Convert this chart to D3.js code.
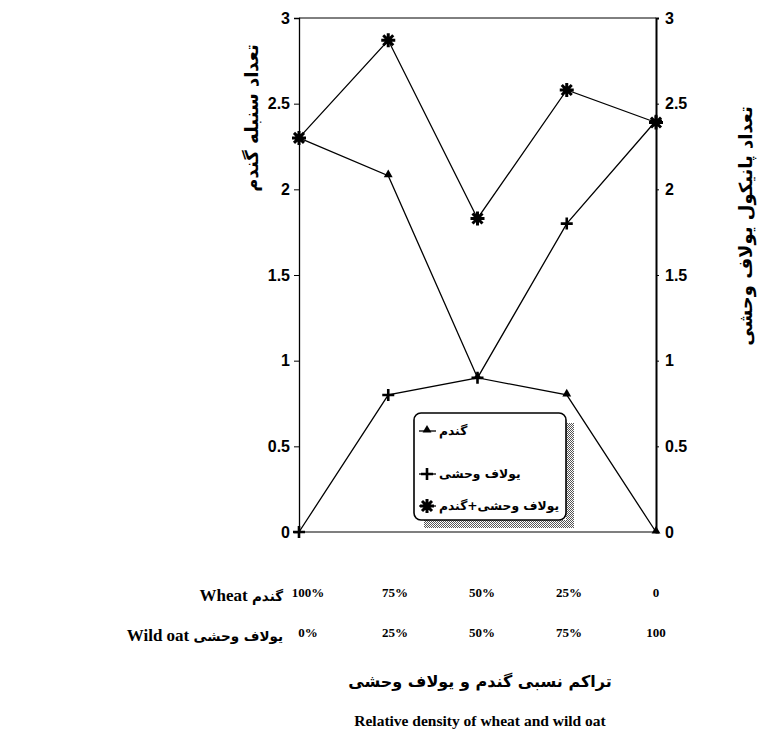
<!DOCTYPE html>
<html>
<head>
<meta charset="utf-8">
<script src="https://cdn.jsdelivr.net/npm/d3@7"></script>
<style>
body { margin: 0; background: #fff; }
</style>
</head>
<body>
<script>
var categories = [0, 1, 2, 3, 4]
var wheatRow = ["100%", "75%", "50%", "25%", "0"]
var oatRow = ["0%", "25%", "50%", "75%", "100"]
var wheat = [2.3, 2.08, 0.9, 0.8, 0]
var wildOat = [0, 0.8, 0.9, 1.8, 2.4]
var total = [2.3, 2.87, 1.83, 2.58, 2.39]
var yTicks = [0, 0.5, 1, 1.5, 2, 2.5, 3]
var legendNames = ["گندم", "یولاف وحشی", "یولاف وحشی+گندم"]

var W = 771, H = 734
var fa = "'DejaVu Sans', sans-serif"
var serif = "'Liberation Serif', 'Times New Roman', serif"

var svg = d3.select("body")
	.append("svg")
	.attr("width", W)
	.attr("height", H)

var defs = svg.append("defs")
var shade = defs.append("pattern")
	.attr("id", "shade")
	.attr("width", 2)
	.attr("height", 2)
	.attr("patternUnits", "userSpaceOnUse")
shade.append("rect").attr("width", 2).attr("height", 2).attr("fill", "#fff")
shade.append("rect").attr("width", 1).attr("height", 1).attr("fill", "#555")
shade.append("rect").attr("x", 1).attr("y", 1).attr("width", 1).attr("height", 1).attr("fill", "#555")

var x = d3.scalePoint().domain(categories).range([299, 656])
var y = d3.scaleLinear().domain([0, 3]).range([532, 18])
var xLab = d3.scalePoint().domain(categories).range([308, 656])

// frame: top and bottom lines
svg.append("line").attr("x1", 299).attr("x2", 656).attr("y1", y(3)).attr("y2", y(3))
	.attr("stroke", "#000").attr("stroke-width", 1)
svg.append("line").attr("x1", 299).attr("x2", 656).attr("y1", y(0)).attr("y2", y(0))
	.attr("stroke", "#000").attr("stroke-width", 1.2)

var leftAxis = svg.append("g")
	.attr("transform", "translate(299,0)")
	.call(d3.axisLeft(y).tickValues(yTicks).tickSize(5).tickPadding(4).tickFormat(d3.format("")))
var rightAxis = svg.append("g")
	.attr("transform", "translate(656,0)")
	.call(d3.axisRight(y).tickValues(yTicks).tickSize(3).tickPadding(6).tickFormat(d3.format("")))

leftAxis.select(".domain").attr("stroke-width", 1.3)
rightAxis.select(".domain").attr("stroke-width", 2)
svg.selectAll(".tick text")
	.attr("font-family", "'Liberation Sans', Arial, sans-serif")
	.attr("font-weight", "bold")
	.attr("font-size", 16)
	.attr("fill", "#000")

// lines
var line = d3.line()
	.x(function(d, i) { return x(categories[i]) })
	.y(function(d) { return y(d) })

;[wheat, wildOat, total].forEach(function(s) {
	svg.append("path")
		.datum(s)
		.attr("d", line)
		.attr("fill", "none")
		.attr("stroke", "#000")
		.attr("stroke-width", 1.3)
})

function marker(g, type, cx, cy) {
	if (type == 0) {
		g.append("path")
			.attr("d", d3.symbol().type(d3.symbolTriangle).size(34)())
			.attr("transform", "translate(" + cx + "," + (cy - 1) + ")")
			.attr("fill", "#000")
	} else if (type == 1) {
		g.append("path")
			.attr("d", "M" + (cx - 6) + "," + cy + "H" + (cx + 6) + "M" + cx + "," + (cy - 6) + "V" + (cy + 6))
			.attr("stroke", "#000")
			.attr("stroke-width", 2.6)
	} else {
		var r = 7, q = 5
		g.append("path")
			.attr("d", "M" + (cx - r) + "," + cy + "H" + (cx + r) +
				"M" + cx + "," + (cy - r) + "V" + (cy + r) +
				"M" + (cx - q) + "," + (cy - q) + "L" + (cx + q) + "," + (cy + q) +
				"M" + (cx - q) + "," + (cy + q) + "L" + (cx + q) + "," + (cy - q))
			.attr("stroke", "#000")
			.attr("stroke-width", 3)
	}
}

var marks = svg.append("g")
wheat.forEach(function(v, i) { marker(marks, 0, x(categories[i]), y(v)) })
wildOat.forEach(function(v, i) { marker(marks, 1, x(categories[i]), y(v)) })
total.forEach(function(v, i) { marker(marks, 2, x(categories[i]), y(v)) })

// legend
var lg = svg.append("g")
lg.append("path")
	.attr("d", "M566,423 H574 V528 H424 V520 H566 Z")
	.attr("fill", "url(#shade)")
lg.append("rect")
	.attr("x", 414).attr("y", 413)
	.attr("width", 152).attr("height", 107)
	.attr("rx", 7)
	.attr("fill", "#fff")
	.attr("stroke", "#000")
	.attr("stroke-width", 1.6)
var legendY = [431, 474, 506]
legendNames.forEach(function(name, i) {
	lg.append("line")
		.attr("x1", 419).attr("x2", 436)
		.attr("y1", legendY[i]).attr("y2", legendY[i])
		.attr("stroke", "#000").attr("stroke-width", 1.3)
	marker(lg, i, 427, legendY[i])
	lg.append("text")
		.attr("x", 439)
		.attr("y", legendY[i] + 4)
		.attr("font-family", fa)
		.attr("font-weight", "bold")
		.attr("font-size", 12.3)
		.text(name)
})

// axis titles
svg.append("text")
	.attr("transform", "translate(252,118) rotate(-90)")
	.attr("text-anchor", "middle")
	.attr("dy", "0.35em")
	.attr("font-family", fa)
	.attr("font-weight", "bold")
	.attr("font-size", 18)
	.text("تعداد سنبله گندم")

svg.append("text")
	.attr("transform", "translate(746,226) rotate(-90)")
	.attr("text-anchor", "middle")
	.attr("dy", "0.35em")
	.attr("font-family", fa)
	.attr("font-weight", "bold")
	.attr("font-size", 18)
	.text("تعداد پانیکول یولاف وحشی")

// density rows
svg.append("g").selectAll("text")
	.data(wheatRow)
	.enter()
	.append("text")
	.attr("x", function(d, i) { return xLab(categories[i]) })
	.attr("y", 597)
	.attr("text-anchor", "middle")
	.attr("font-family", serif)
	.attr("font-weight", "bold")
	.attr("font-size", 13)
	.text(function(d) { return d })

svg.append("g").selectAll("text")
	.data(oatRow)
	.enter()
	.append("text")
	.attr("x", function(d, i) { return xLab(categories[i]) })
	.attr("y", 637)
	.attr("text-anchor", "middle")
	.attr("font-family", serif)
	.attr("font-weight", "bold")
	.attr("font-size", 13)
	.text(function(d) { return d })

// row names
var rn1 = svg.append("text").attr("x", 283).attr("y", 601).attr("text-anchor", "end")
rn1.append("tspan").attr("font-family", serif).attr("font-weight", "bold").attr("font-size", 17).text("Wheat ")
rn1.append("tspan").attr("font-family", fa).attr("font-weight", "bold").attr("font-size", 13.5).text("گندم")
var rn2 = svg.append("text").attr("x", 283).attr("y", 641).attr("text-anchor", "end")
rn2.append("tspan").attr("font-family", serif).attr("font-weight", "bold").attr("font-size", 17).text("Wild oat ")
rn2.append("tspan").attr("font-family", fa).attr("font-weight", "bold").attr("font-size", 13.5).text("یولاف وحشی")

// x titles
svg.append("text")
	.attr("x", 480).attr("y", 687)
	.attr("text-anchor", "middle")
	.attr("font-family", fa)
	.attr("font-weight", "bold")
	.attr("font-size", 16)
	.text("تراکم نسبی گندم و یولاف وحشی")

svg.append("text")
	.attr("x", 480).attr("y", 726)
	.attr("text-anchor", "middle")
	.attr("font-family", serif)
	.attr("font-weight", "bold")
	.attr("font-size", 15.5)
	.text("Relative density of wheat and wild oat")
</script>
</body>
</html>
